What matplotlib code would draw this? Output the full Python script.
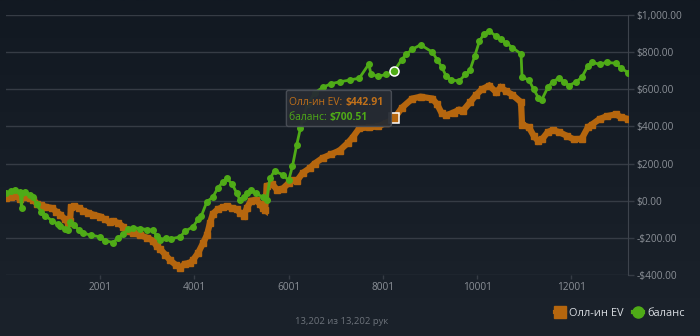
import numpy as np
import matplotlib
matplotlib.use("Agg")
import matplotlib.pyplot as plt
from matplotlib.colors import LinearSegmentedColormap
from matplotlib.patches import FancyBboxPatch
from matplotlib.lines import Line2D
from matplotlib.ticker import FuncFormatter, FixedLocator
from matplotlib.transforms import IdentityTransform

plt.rcParams['font.family'] = ['Open Sans', 'DejaVu Sans']

# all-in EV curve (hand number, dollars)
ev_hands = [1, 100, 200, 300, 414, 500, 583, 668, 750, 837, 985, 1070, 1154, 1250, 1323,
            1360, 1380, 1450, 1550, 1641, 1750, 1850, 2001, 2100, 2200, 2276, 2380, 2487,
            2600, 2699, 2850, 3000, 3122, 3200, 3271, 3380, 3482, 3600, 3694, 3800, 3900,
            3969, 4080, 4180, 4265, 4330, 4392, 4500, 4600, 4688, 4800, 4900, 4964, 5050,
            5112, 5200, 5300, 5400, 5451, 5500, 5535, 5650, 5750, 5874, 6000, 6100, 6170,
            6300, 6445, 6550, 6720, 6900, 7080, 7250, 7355, 7500, 7715, 7900, 8075, 8244,
            8400, 8625, 8800, 9049, 9150, 9250, 9345, 9500, 9620, 9700, 9850, 9980, 10100,
            10255, 10403, 10500, 10615, 10750, 10932, 10953, 11100, 11200, 11300, 11375,
            11500, 11600, 11735, 11900, 12050, 12222, 12350, 12434, 12600, 12750, 12942,
            13050, 13202]
ev_vals = [15, 20, 25, 10, 20, 12, 5, -20, -25, -32, -40, -60, -75, -100, -120,
           -110, -35, -30, -40, -55, -65, -75, -85, -100, -115, -110, -120, -140,
           -165, -175, -185, -200, -215, -245, -260, -290, -320, -345, -360, -340, -335,
           -320, -280, -230, -185, -120, -70, -45, -35, -30, -40, -45, -65, -80,
           -40, 0, 5, -20, -40, -50, 80, 90, 60, 65, 95, 110, 105,
           150, 175, 200, 230, 250, 270, 310, 340, 390, 395, 400, 420, 442.91,
           500, 550, 560, 550, 520, 470, 460, 475, 490, 485, 530, 570, 600,
           620, 585, 610, 590, 570, 530, 410, 395, 350, 320, 330,
           370, 380, 370, 350, 330, 335, 395, 410, 440, 455, 465,
           450, 440]

# balance curve
bal_hands = [1, 100, 202, 300, 330, 350, 414, 500, 583, 650, 750, 837, 985, 1100, 1154,
             1250, 1323, 1366, 1450, 1550, 1641, 1800, 2001, 2100, 2276, 2380, 2487, 2600,
             2699, 2850, 3000, 3122, 3200, 3271, 3400, 3500, 3694, 3800, 3969, 4080, 4150,
             4265, 4392, 4500, 4600, 4688, 4800, 4900, 4964, 5050, 5112, 5200, 5300, 5451,
             5535, 5600, 5700, 5874, 6000, 6080, 6170, 6250, 6297, 6400, 6550, 6720, 6900,
             7080, 7300, 7500, 7700, 7750, 7900, 8075, 8244, 8400, 8500, 8625, 8800, 9049,
             9150, 9250, 9345, 9450, 9620, 9750, 9850, 9950, 10050, 10150, 10255, 10403,
             10500, 10615, 10750, 10932, 10953, 11100, 11200, 11300, 11375, 11500, 11600,
             11735, 11850, 11950, 12100, 12222, 12350, 12434, 12600, 12750, 12942, 13050,
             13202]
bal_vals = [40, 50, 60, 45, -40, 40, 45, 30, 20, -20, -60, -80, -110, -125, -135,
            -150, -155, -115, -130, -160, -175, -185, -195, -215, -225, -200, -180, -150,
            -145, -150, -155, -160, -190, -210, -200, -205, -195, -165, -140, -100, -80,
            -5, 20, 70, 100, 120, 90, 40, 5, 20, 40, 60, 40, 20,
            5, 120, 160, 140, 110, 185, 300, 390, 440, 520, 580, 610, 630,
            640, 650, 660, 735, 680, 670, 680, 700.51, 760, 790, 815, 840, 800,
            760, 720, 670, 650, 645, 680, 705, 780, 860, 900, 915, 885,
            870, 850, 825, 790, 665, 650, 600, 555, 545, 610, 640,
            660, 640, 620, 640, 665, 725, 745, 735, 745, 740, 715,
            690]

total_hands = 13202
hover_hand = 8244
hover_ev = 442.91
hover_bal = 700.51

ORANGE = '#b5660e'
GREEN = '#4fab17'
GRID = '#363c45'

fig = plt.figure(figsize=(7, 3.36), dpi=100)

# background gradient
bg = fig.add_axes([0, 0, 1, 1], zorder=-10)
cmap = LinearSegmentedColormap.from_list('bg', ['#1b222b', '#121922'])
bg.imshow(np.linspace(0, 1, 256).reshape(-1, 1), cmap=cmap, aspect='auto',
          extent=[0, 1, 0, 1], origin='lower')
bg.axis('off')

ax = fig.add_axes([6 / 700, 61 / 336, 622 / 700, 260 / 336])
ax.set_facecolor('none')

ax.plot(ev_hands, ev_vals, color=ORANGE, lw=4.5, marker='s', ms=4.5, mec=ORANGE,
        mfc=ORANGE, solid_joinstyle='miter', zorder=3)
ax.plot(bal_hands, bal_vals, color=GREEN, lw=2.0, marker='o', ms=4.0, mec=GREEN,
        mfc=GREEN, zorder=4)

# hovered point
ax.plot(hover_hand, hover_ev, marker='s', ms=6.5, mfc=ORANGE, mec='white', mew=1.1, zorder=6)
ax.plot(hover_hand, hover_bal, marker='o', ms=6.5, mfc=GREEN, mec='white', mew=1.1, zorder=6)

ax.set_xlim(1, total_hands)
ax.set_ylim(-400, 1000)
ax.xaxis.set_major_locator(FixedLocator([2001, 4001, 6001, 8001, 10001, 12001]))
ax.yaxis.set_major_locator(FixedLocator(np.arange(-400, 1001, 200)))


def money(v, pos):
    s = '${:,.2f}'.format(abs(v))
    return '-' + s if v < 0 else s


ax.yaxis.set_major_formatter(FuncFormatter(money))
ax.yaxis.tick_right()
ax.grid(axis='y', color=GRID, lw=1.0, zorder=0)
for side in ['left', 'top', 'bottom']:
    ax.spines[side].set_visible(False)
ax.spines['right'].set_color('#3d434c')
ax.tick_params(axis='y', colors=GRID, length=4, width=1.0, pad=2, labelsize=7.3,
               labelcolor='#8b9097')
ax.tick_params(axis='x', colors=GRID, length=3, width=1.0, pad=2, labelsize=7.3,
               labelcolor='#8b9097')

# tooltip, placed in pixels next to the hovered point
fig.canvas.draw()
hx, hy = ax.transData.transform((hover_hand, hover_ev))
px = IdentityTransform()
box = FancyBboxPatch((hx - 108, hy - 8), 105, 36, boxstyle='round,pad=0,rounding_size=2',
                     transform=px, facecolor='#262b33', edgecolor='#4a4f57', lw=1.0,
                     zorder=10, alpha=0.95, clip_on=False)
ax.add_patch(box)
t1 = ax.text(hx - 105, hy + 16, 'Олл-ин EV: ', color='#c0701a', fontsize=7.4,
             va='center', ha='left', zorder=11, transform=px, clip_on=False)
ax.annotate('${:.2f}'.format(hover_ev), xy=(1, 0), xycoords=t1, va='bottom', ha='left',
            color='#c0701a', fontsize=7.4, fontweight='bold', zorder=11, annotation_clip=False)
t2 = ax.text(hx - 105, hy + 1, 'баланс: ', color=GREEN, fontsize=7.4,
             va='center', ha='left', zorder=11, transform=px, clip_on=False)
ax.annotate('${:.2f}'.format(hover_bal), xy=(1, 0), xycoords=t2, va='bottom', ha='left',
            color=GREEN, fontsize=7.4, fontweight='bold', zorder=11, annotation_clip=False)

# legend
handles = [Line2D([], [], color=ORANGE, lw=3, marker='s', ms=8, mec=ORANGE),
           Line2D([], [], color=GREEN, lw=3, marker='o', ms=8, mec=GREEN)]
fig.legend(handles, ['Олл-ин EV', 'баланс'], loc='center right',
           bbox_to_anchor=(0.992, 0.068), frameon=False, ncol=2, fontsize=7.9,
           labelcolor='#d9dde2', handlelength=0.9, handletextpad=0.4, columnspacing=0.8)

fig.text(342 / 700, 15 / 336, '13,202 из 13,202 рук', color='#6c727a', fontsize=6.8,
         ha='center', va='center')

fig.savefig('out.png', dpi=100)
